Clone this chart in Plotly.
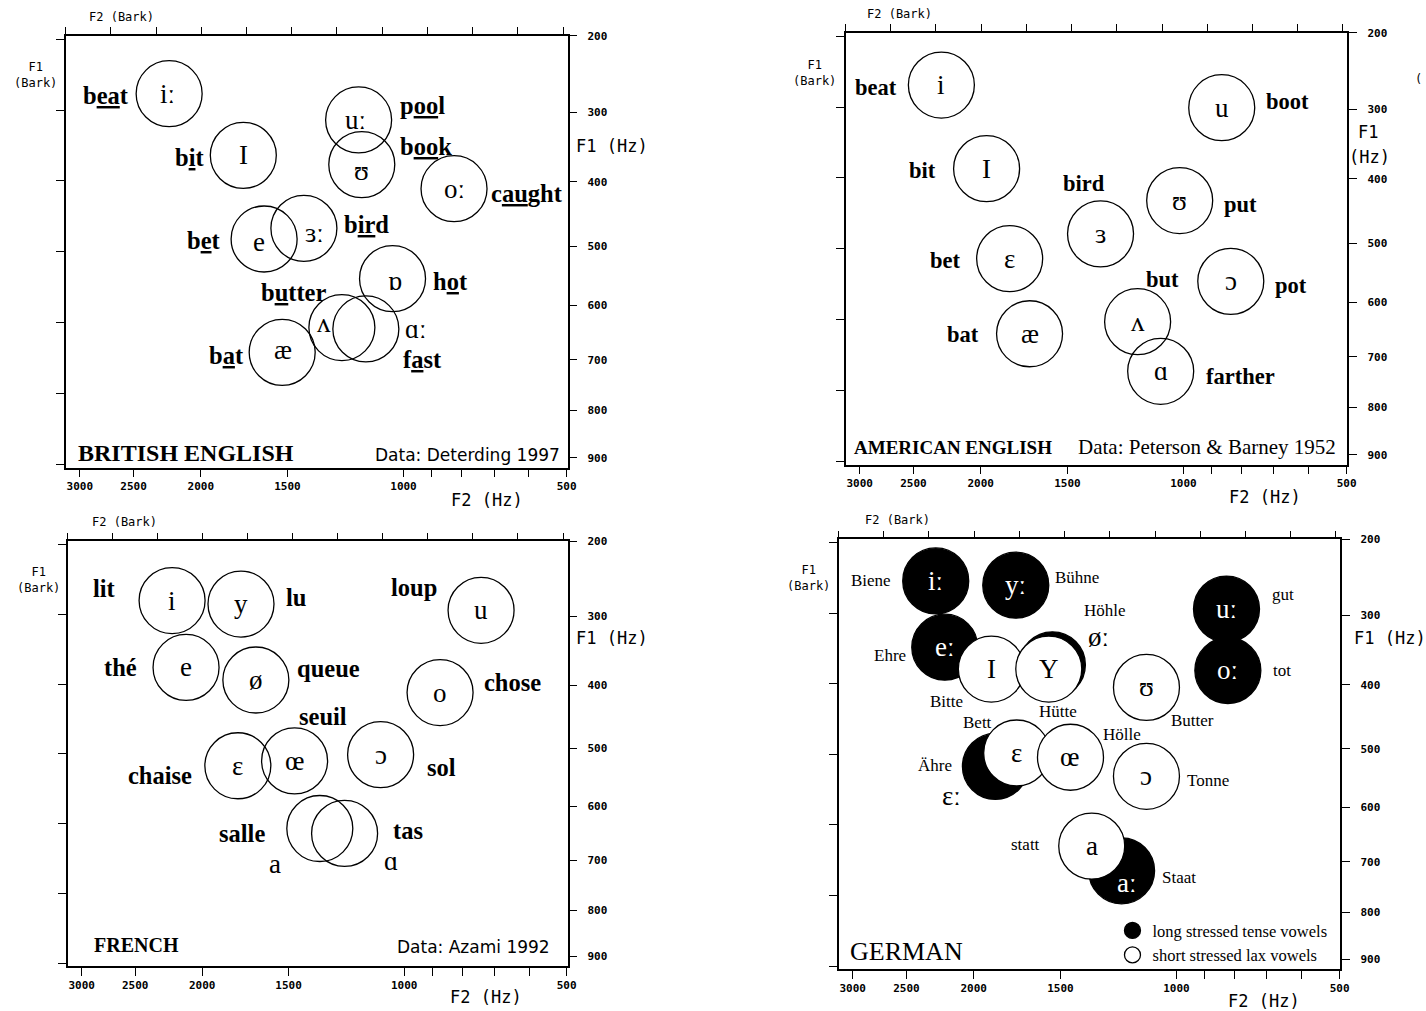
import plotly.graph_objects as go

W, H = 1426, 1011


def bark(f):
    """Traunmueller Hz -> Bark"""
    return 26.81 * f / (1960.0 + f) - 0.53


# ---------------- data (F2 / F1 in Bark) ----------------
brit_symbols = ['iː', 'I', 'uː', 'ʊ', 'oː', 'e', 'ɜː', 'ɒ', 'ʌ', 'ɑː', 'æ']
brit_words = ['b<u>ea</u>t', 'b<u>i</u>t', 'p<u>oo</u>l', 'b<u>oo</u>k', 'c<u>au</u>ght',
              'b<u>e</u>t', 'b<u>ir</u>d', 'h<u>o</u>t', 'b<u>u</u>tter', 'f<u>a</u>st', 'b<u>a</u>t']
brit_f2 = [13.71, 12.07, 9.52, 9.45, 7.41, 11.61, 10.73, 8.77, 9.89, 9.36, 11.21]
brit_f1 = [2.77, 3.64, 3.14, 3.77, 4.11, 4.82, 4.67, 5.38, 6.07, 6.09, 6.42]

amer_symbols = ['i', 'I', 'u', 'ʊ', 'ɜ', 'ɛ', 'ɔ', 'æ', 'ʌ', 'ɑ']
amer_words = ['beat', 'bit', 'boot', 'put', 'bird', 'bet', 'pot', 'bat', 'but', 'farther']
amer_f2 = [13.88, 12.88, 7.68, 8.61, 10.36, 12.37, 7.48, 11.93, 9.54, 9.03]
amer_f1 = [2.69, 3.87, 3.01, 4.32, 4.79, 5.14, 5.46, 6.20, 6.03, 6.73]

fren_symbols = ['i', 'y', 'u', 'e', 'ø', 'o', 'ɛ', 'œ', 'ɔ', 'a', 'ɑ']
fren_words = ['lit', 'lu', 'loup', 'thé', 'queue', 'chose', 'chaise', 'seuil', 'sol', 'salle', 'tas']
fren_f2 = [13.68, 12.15, 6.82, 13.37, 11.82, 7.73, 12.22, 10.96, 9.05, 10.40, 9.85]
fren_f1 = [2.80, 2.85, 2.94, 3.76, 3.94, 4.12, 5.17, 5.10, 5.01, 6.07, 6.14]

germ_long_symbols = ['iː', 'yː', 'eː', 'øː', 'uː', 'oː', 'ɛː', 'aː']
germ_long_words = ['Biene', 'Bühne', 'Ehre', 'Höhle', 'gut', 'tot', 'Ähre', 'Staat']
germ_long_f2 = [13.85, 12.08, 13.65, 11.27, 7.42, 7.39, 12.53, 9.74]
germ_long_f1 = [2.54, 2.60, 3.48, 3.73, 2.94, 3.81, 5.17, 6.65]

germ_short_symbols = ['I', 'Y', 'ʊ', 'ɛ', 'œ', 'ɔ', 'a']
germ_short_words = ['Bitte', 'Hütte', 'Butter', 'Bett', 'Hölle', 'Tonne', 'statt']
germ_short_f2 = [12.62, 11.35, 9.19, 12.06, 10.87, 9.19, 10.40]
germ_short_f1 = [3.79, 3.79, 4.05, 4.98, 5.04, 5.31, 6.30]

f2_tick_hz = [3000, 2500, 2000, 1500, 1000, 900, 800, 700, 600, 500]
f2_tick_text = ['3000', '2500', '2000', '1500', '1000', '', '', '', '', '500']
f1_tick_hz = [200, 300, 400, 500, 600, 700, 800, 900]
f1_tick_text = ['200', '300', '400', '500', '600', '700', '800', '900']
f2_bark_ticks = list(range(5, 17))
f1_bark_ticks = list(range(2, 9))

# ---------------- layout helpers (pixel offsets of labels) ----------------
brit_word_dx = [-63, -54, 64, 64, 73, -60, 63, 58, -48, 57, -56]
brit_word_dy = [2, 2, -14, -18, 5, 2, -4, 3, -35, 31, 3]
brit_sym_dx = [-2, 0, -3, 0, 0, -5, 11, 2, -18, 50, 1]
brit_sym_dy = [0, 0, 0, 6, 0, 3, 5, 2, -5, 0, -2]

amer_word_dx = [-65, -64, 66, 61, -17, -64, 60, -67, 25, 80]
amer_word_dy = [2, 2, -6, 4, -50, 2, 4, 1, -42, 5]

fren_word_dx = [-68, 55, -67, -66, 73, 72, -78, 28, 61, -78, 63]
fren_word_dy = [-12, -7, -23, 0, -12, -10, 10, -44, 13, 5, -3]
fren_sym_dx = [0, 0, 0, 0, 0, 0, 0, 0, 0, -45, 46]
fren_sym_dy = [0, 0, 0, 0, 0, 0, 0, 0, 0, 35, 28]

gl_word_dx = [-65, 61, -55, 53, 57, 54, -60, 57]
gl_word_dy = [0, -8, 8, -54, -15, 0, -1, 7]
gl_sym_dx = [0, 0, 0, 46, 0, 0, -44, 5]
gl_sym_dy = [0, 0, 0, -28, 0, 0, 30, 12]
gl_sym_col = ['white', 'white', 'white', 'black', 'white', 'white', 'black', 'white']
gs_word_dx = [-45, 9, 46, -39, 52, 62, -66]
gs_word_dy = [32, 42, 33, -30, -23, 4, -2]

BOX = [(65, 35, 567, 467), (845, 32, 1347, 464), (67, 541, 567, 966), (838, 539, 1340, 969)]
X_RANGE = [16.0, 4.9]
Y_RANGE = [8.045, bark(200)]

SERIF = 'Liberation Serif, DejaVu Serif, serif'
MONO = 'DejaVu Sans Mono, monospace'
SANS = 'DejaVu Sans, sans-serif'
CIRC = 66

fig = go.Figure()
layout = dict(width=W, height=H, margin=dict(l=0, r=0, t=0, b=0),
              paper_bgcolor='white', plot_bgcolor='white', showlegend=True)
annotations = []

# page-pixel -> paper fraction (with a small calibration of the rendered page)
SX, OX, SY, OY = 0.9938, -0.6, 0.9947, 5.2


def px(x):
    return ((x - OX) / SX) / W


def py(y):
    return 1 - ((y - OY) / SY) / H


def ax_names(i):
    xb = 'x' if i == 1 else f'x{i}'
    yb = 'y' if i == 1 else f'y{i}'
    return xb, yb, f'x{i + 4}', f'y{i + 4}'


def lkey(a):
    return a[0] + 'axis' + a[1:]


tick_font = dict(family=MONO, size=11, color='black', weight='bold')
for i, (l, t, r, b) in enumerate(BOX, start=1):
    xb, yb, xt, yr = ax_names(i)
    xd = [px(l), px(r)]
    yd = [py(b), py(t)]
    common = dict(showline=True, linecolor='black', linewidth=1.5, ticks='outside',
                  tickcolor='black', tickwidth=1.2, showgrid=False, zeroline=False,
                  fixedrange=True)
    layout[lkey(xb)] = dict(domain=xd, range=X_RANGE, anchor=yb, side='bottom',
                            tickvals=[bark(f) for f in f2_tick_hz], ticktext=f2_tick_text,
                            ticklen=8, tickfont=tick_font, **common)
    layout[lkey(xt)] = dict(domain=xd, range=X_RANGE, anchor=yb, side='top', overlaying=xb,
                            tickvals=f2_bark_ticks, showticklabels=False, ticklen=7, **common)
    layout[lkey(yb)] = dict(domain=yd, range=Y_RANGE, anchor=xb, side='left',
                            tickvals=f1_bark_ticks, showticklabels=False, ticklen=8, **common)
    layout[lkey(yr)] = dict(domain=yd, range=Y_RANGE, anchor=xb, side='right', overlaying=yb,
                            tickvals=[bark(f) for f in f1_tick_hz], ticktext=f1_tick_text,
                            ticklen=8, tickfont=tick_font, ticklabelstandoff=8, **common)
    fig.add_trace(go.Scatter(x=[None], y=[None], xaxis=xt, yaxis=yb, showlegend=False, hoverinfo='skip'))
    fig.add_trace(go.Scatter(x=[None], y=[None], xaxis=xb, yaxis=yr, showlegend=False, hoverinfo='skip'))


def open_circles(i, f2, f1):
    xb, yb, _, _ = ax_names(i)
    fig.add_trace(go.Scatter(x=f2, y=f1, xaxis=xb, yaxis=yb, mode='markers', showlegend=False,
                             hoverinfo='skip',
                             marker=dict(symbol='circle-open', size=CIRC, color='black',
                                         line=dict(width=1.3, color='black'))))


def labels(i, f2, f1, texts, dx, dy, size, color='black', bold=False):
    xb, yb, _, _ = ax_names(i)
    for k, (x, y, s) in enumerate(zip(f2, f1, texts)):
        c = color[k] if isinstance(color, list) else color
        annotations.append(dict(x=x, y=y, xref=xb, yref=yb, text=s, showarrow=False,
                                xshift=dx[k], yshift=-dy[k], xanchor='center', yanchor='middle',
                                font=dict(family=SERIF, size=size, color=c,
                                          weight='bold' if bold else 'normal')))


def zeros(n):
    return [0] * n


# British
open_circles(1, brit_f2, brit_f1)
labels(1, brit_f2, brit_f1, brit_symbols, brit_sym_dx, brit_sym_dy, 27)
labels(1, brit_f2, brit_f1, brit_words, brit_word_dx, brit_word_dy, 24.5, bold=True)
# American
open_circles(2, amer_f2, amer_f1)
labels(2, amer_f2, amer_f1, amer_symbols, zeros(10), zeros(10), 27)
labels(2, amer_f2, amer_f1, amer_words, amer_word_dx, amer_word_dy, 22.5, bold=True)
# French
open_circles(3, fren_f2, fren_f1)
labels(3, fren_f2, fren_f1, fren_symbols, fren_sym_dx, fren_sym_dy, 27)
labels(3, fren_f2, fren_f1, fren_words, fren_word_dx, fren_word_dy, 24.5, bold=True)
# German
xb4, yb4, _, _ = ax_names(4)
fig.add_trace(go.Scatter(x=germ_long_f2, y=germ_long_f1, xaxis=xb4, yaxis=yb4, mode='markers',
                         name='long stressed tense vowels', hoverinfo='skip',
                         marker=dict(symbol='circle', size=CIRC, color='black',
                                     line=dict(width=1.3, color='black'))))
fig.add_trace(go.Scatter(x=germ_short_f2, y=germ_short_f1, xaxis=xb4, yaxis=yb4, mode='markers',
                         name='short stressed lax vowels', hoverinfo='skip',
                         marker=dict(symbol='circle', size=CIRC, color='white',
                                     line=dict(width=1.3, color='black'))))
labels(4, germ_long_f2, germ_long_f1, germ_long_symbols, gl_sym_dx, gl_sym_dy, 27, color=gl_sym_col)
labels(4, germ_long_f2, germ_long_f1, germ_long_words, gl_word_dx, gl_word_dy, 17)
labels(4, germ_short_f2, germ_short_f1, germ_short_symbols, zeros(7), zeros(7), 27)
labels(4, germ_short_f2, germ_short_f1, germ_short_words, gs_word_dx, gs_word_dy, 17)


def ptext(x, y, s, family, size, anchor='center', weight='normal'):
    annotations.append(dict(x=px(x), y=py(y), xref='paper', yref='paper', text=s, showarrow=False,
                            xanchor=anchor, yanchor='middle',
                            font=dict(family=family, size=size, color='black', weight=weight)))


# panel titles and sources
ptext(75, 452, 'BRITISH ENGLISH', SERIF, 24, 'left', 'bold')
ptext(561, 454, 'Data: Deterding 1997', SANS, 17, 'right')
ptext(851, 447, 'AMERICAN ENGLISH', SERIF, 19, 'left', 'bold')
ptext(1338, 446, 'Data: Peterson &amp; Barney 1952', SERIF, 21, 'right')
ptext(91, 945, 'FRENCH', SERIF, 20, 'left', 'bold')
ptext(551, 947, 'Data: Azami 1992', SANS, 17, 'right')
ptext(847, 951, 'GERMAN', SERIF, 26, 'left')

# axis titles
for (bx, by), (fx, fy), h, (zx, zy) in [
        ((121, 16), (35, 74), (611, 145), (486, 500)),
        ((899, 13), (814, 72), None, (1265, 497)),
        ((124, 522), (38, 580), (611, 638), (485, 997)),
        ((897, 520), (808, 578), (1390, 638), (1264, 1001))]:
    ptext(bx, by, 'F2 (Bark)', MONO, 12)
    ptext(fx, fy, 'F1<br>(Bark)', MONO, 12)
    if h:
        ptext(h[0], h[1], 'F1 (Hz)', MONO, 17)
    ptext(zx, zy, 'F2 (Hz)', MONO, 17)
ptext(1368, 131, 'F1', MONO, 17)
ptext(1369, 156, '(Hz)', MONO, 17)
ptext(1418, 78, '(', MONO, 12)

layout['annotations'] = annotations
layout['legend'] = dict(x=px(1112), y=py(913), xanchor='left', yanchor='top', bgcolor='rgba(0,0,0,0)',
                        font=dict(family=SERIF, size=16.5, color='black'), itemsizing='trace',
                        tracegroupgap=0, itemwidth=30)
fig.update_layout(**layout)
fig.write_html('out.html')
